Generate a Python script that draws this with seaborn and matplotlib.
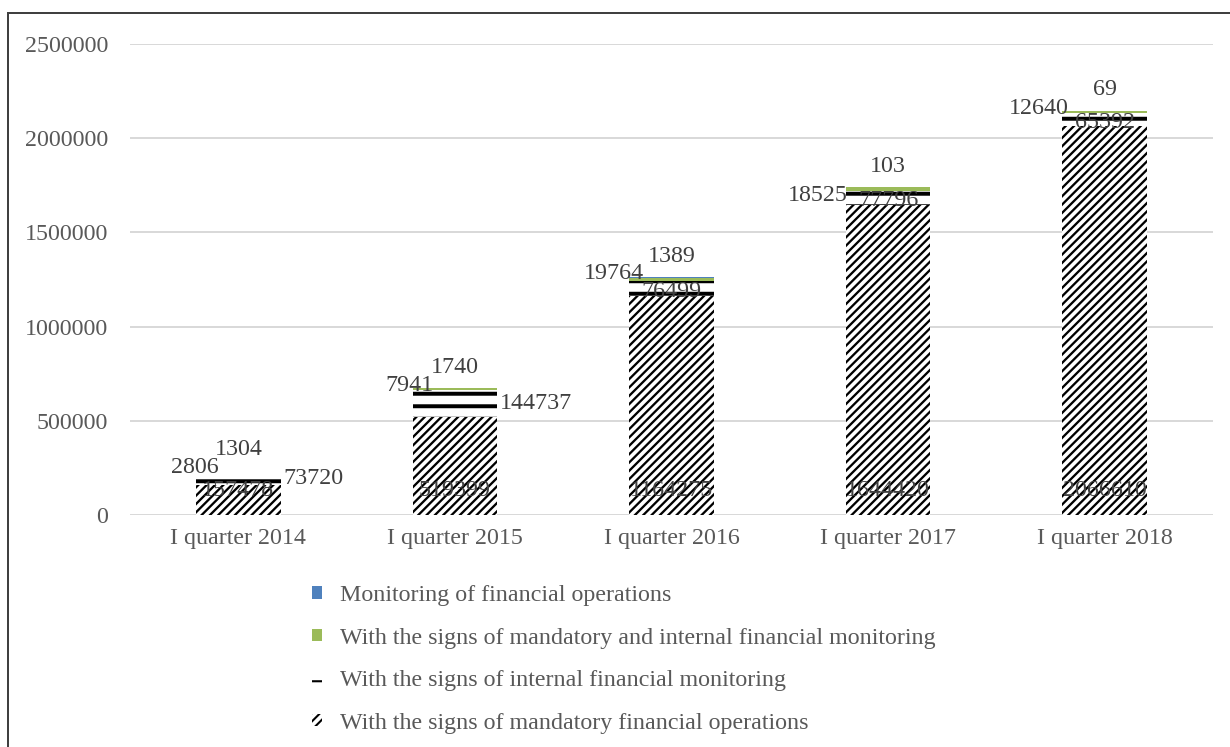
import matplotlib
matplotlib.use("Agg")
import matplotlib.pyplot as plt
from matplotlib.patches import Patch, Rectangle
import numpy as np
import pandas as pd
import seaborn as sns

# Quarterly counts of reported financial operations
quarters = ["I quarter 2014", "I quarter 2015", "I quarter 2016",
            "I quarter 2017", "I quarter 2018"]
mandatory = [157478, 519399, 1164275, 1644420, 2066610]
internal = [73720, 144737, 76499, 77796, 65392]
mandatory_internal = [2806, 7941, 19764, 18525, 12640]
monitoring = [1304, 1740, 1389, 103, 69]

series_names = [
    "With the signs of mandatory financial operations",
    "With the signs of internal financial monitoring",
    "With the signs of mandatory and internal financial monitoring",
    "Monitoring of financial operations",
]
y_ticks = [0, 500000, 1000000, 1500000, 2000000, 2500000]

# label placement tweaks (pixels)
internal_label_place = ["right", "right", "center", "center", "center"]
mi_label_dx = [23, 21, 15, 2, 6]
mi_label_dy = [3, 3, 4, -8, 2]

# styling
DPI = 150
FS = 11.5
TEXT = "#595959"
LABEL = "#404040"
GRID = "#d9d9d9"
GREEN = "#9bbb59"
BLUE = "#4f81bd"
BAR_W = 0.39


def px(p):
    """pixels -> points at the output resolution"""
    return p * 72.0 / DPI


sns.set_theme(style="white")
plt.rcParams["font.family"] = ["Liberation Serif", "DejaVu Serif"]

df = pd.DataFrame({
    "quarter": quarters,
    "mandatory": mandatory,
    "internal": internal,
    "mandatory_internal": mandatory_internal,
    "monitoring": monitoring,
})
base1 = np.zeros(len(quarters))
base2 = base1 + np.array(mandatory)
base3 = base2 + np.array(internal)
base4 = base3 + np.array(mandatory_internal)
top = base4 + np.array(monitoring)

fig = plt.figure(figsize=(1230 / DPI, 747 / DPI), dpi=DPI)
ax = fig.add_axes([130 / 1230, 1 - 515 / 747, (1213 - 130) / 1230, (515 - 44) / 747])

layers = [
    ("mandatory", base1, "white", "//////", 1.1),
    ("internal", base2, "white", "--", 1.9),
    ("mandatory_internal", base3, GREEN, None, 1.0),
    ("monitoring", base4, BLUE, None, 1.0),
]
handles = []
for (col, bottom, fc, hatch, hlw), name in zip(layers, series_names):
    with plt.rc_context({"hatch.linewidth": hlw}):
        sns.barplot(data=df, x="quarter", y=col, order=quarters, color=fc,
                    saturation=1, width=BAR_W, errorbar=None, bottom=bottom,
                    hatch=hatch, edgecolor="black", linewidth=0, ax=ax)
        handles.append(Patch(facecolor=fc, hatch=hatch, edgecolor="black",
                             linewidth=0, label=name))

ax.set_xlim(-0.5, len(quarters) - 0.5)
ax.set_ylim(0, 2500000)
ax.set_yticks(y_ticks)
ax.set_yticklabels([str(v) for v in y_ticks])
ax.set_xlabel("")
ax.set_ylabel("")
ax.tick_params(axis="both", length=0, labelsize=FS, colors=TEXT)
ax.tick_params(axis="y", pad=px(22))
ax.tick_params(axis="x", pad=px(13))
ax.yaxis.grid(True, color=GRID, linewidth=px(2))
ax.set_axisbelow(True)
for s in ax.spines.values():
    s.set_visible(False)

# value labels
for i in range(len(quarters)):
    ax.annotate(str(mandatory[i]), xy=(i, 0), xytext=(0, px(25)),
                textcoords="offset points", ha="center", va="center",
                fontsize=FS, color=LABEL)
    mid = base2[i] + internal[i] / 2
    if internal_label_place[i] == "right":
        ax.annotate(str(internal[i]), xy=(i + BAR_W / 2, mid), xytext=(px(3), 0),
                    textcoords="offset points", ha="left", va="center",
                    fontsize=FS, color=LABEL)
    else:
        ax.annotate(str(internal[i]), xy=(i, mid), xytext=(0, px(-3)),
                    textcoords="offset points", ha="center", va="center",
                    fontsize=FS, color=LABEL)
    ax.annotate(str(mandatory_internal[i]), xy=(i - BAR_W / 2, base4[i]),
                xytext=(px(mi_label_dx[i]), px(mi_label_dy[i])),
                textcoords="offset points", ha="right", va="center",
                fontsize=FS, color=LABEL)
    ax.annotate(str(monitoring[i]), xy=(i, top[i]), xytext=(0, px(21)),
                textcoords="offset points", ha="center", va="center",
                fontsize=FS, color=LABEL)

leg = fig.legend(handles=handles[::-1], loc="upper left",
                 bbox_to_anchor=(312 / 1230, 1 - 585 / 747),
                 frameon=False, fontsize=FS, handlelength=0.42,
                 handleheight=0.42, handletextpad=0.76, labelspacing=0.9,
                 borderpad=0, borderaxespad=0)
for t in leg.get_texts():
    t.set_color(TEXT)

# chart frame
fig.patches.append(Rectangle((8 / 1230, -0.2), 1.2, 1.2 - 13 / 747,
                             transform=fig.transFigure, fill=False,
                             edgecolor="#404040", linewidth=px(2)))

fig.savefig("out.png", dpi=DPI)
